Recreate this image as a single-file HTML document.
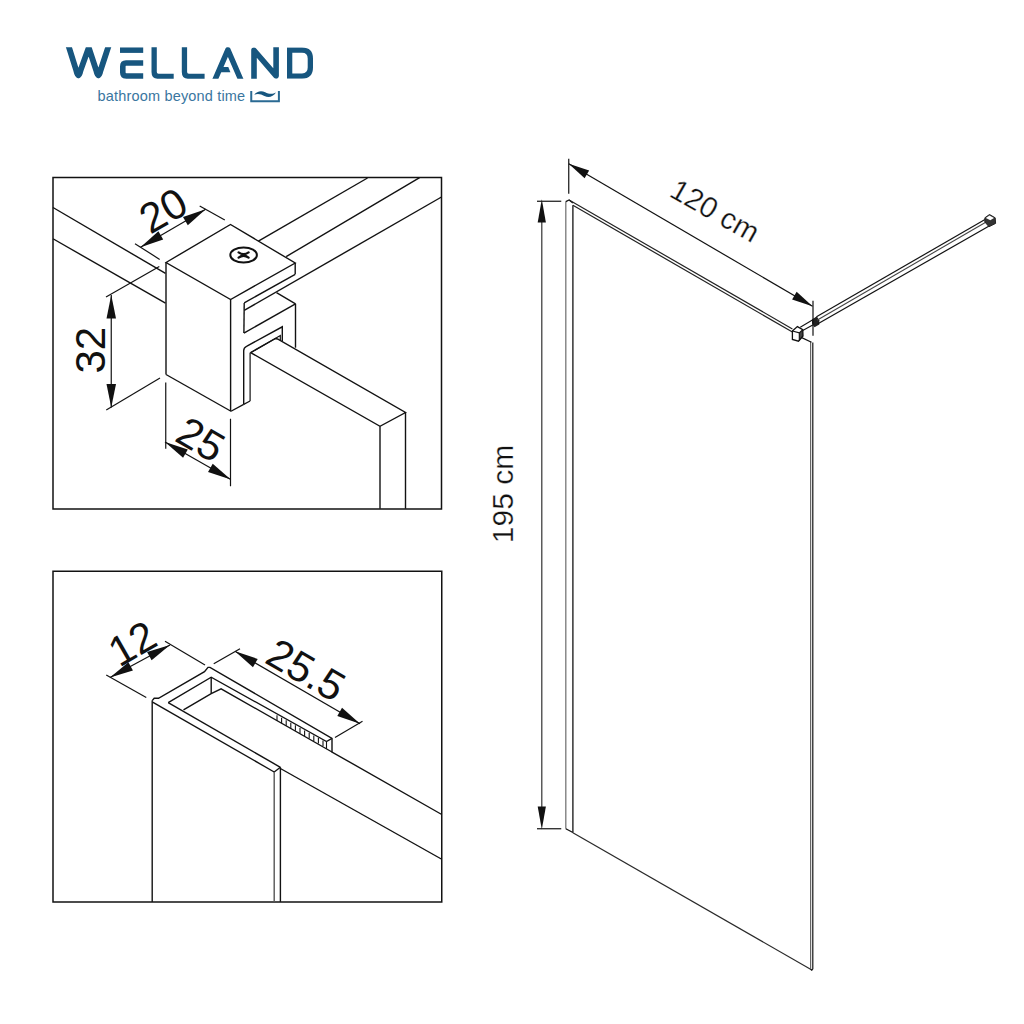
<!DOCTYPE html>
<html><head><meta charset="utf-8"><style>
html,body{margin:0;padding:0;background:#fff;width:1024px;height:1024px;overflow:hidden}
svg{position:absolute;left:0;top:0}
</style></head><body>
<svg width="1024" height="1024" viewBox="0 0 1024 1024">
<polygon points="53,177.5 441.5,177.5 441.5,509.1 53,509.1" fill="none" stroke="#121212" stroke-width="1.5" stroke-linejoin="miter"/>
<line x1="53" y1="207.5" x2="165.5" y2="273.4" stroke="#121212" stroke-width="1.4"/>
<line x1="53" y1="238.75" x2="165.5" y2="303.2" stroke="#121212" stroke-width="1.4"/>
<line x1="367.5" y1="178" x2="258.4" y2="241.2" stroke="#121212" stroke-width="1.4"/>
<line x1="419.6" y1="177.7" x2="286.2" y2="256.6" stroke="#121212" stroke-width="1.4"/>
<line x1="441.5" y1="197" x2="244.2" y2="310.4" stroke="#121212" stroke-width="1.4"/>
<polygon points="166,262.5 230.5,224.5 295.2,263 230.6,299.5" fill="none" stroke="#121212" stroke-width="1.4" stroke-linejoin="miter"/>
<line x1="166" y1="262.5" x2="166" y2="374.5" stroke="#121212" stroke-width="1.4"/>
<line x1="166" y1="374.5" x2="231" y2="411.25" stroke="#121212" stroke-width="1.4"/>
<line x1="230.6" y1="299.5" x2="230.6" y2="411.25" stroke="#121212" stroke-width="1.4"/>
<line x1="231" y1="411.25" x2="243.7" y2="404.4" stroke="#121212" stroke-width="1.4"/>
<line x1="243.7" y1="404.4" x2="250.1" y2="401" stroke="#121212" stroke-width="1.2"/>
<line x1="295.2" y1="263" x2="295.2" y2="274.3" stroke="#121212" stroke-width="1.4"/>
<line x1="295.2" y1="274.3" x2="244.2" y2="302.9" stroke="#121212" stroke-width="1.4"/>
<line x1="244.2" y1="302.9" x2="243.9" y2="333.1" stroke="#121212" stroke-width="1.4"/>
<line x1="243.9" y1="333.1" x2="295.5" y2="303.8" stroke="#121212" stroke-width="1.4"/>
<line x1="276.5" y1="292.6" x2="295.5" y2="303.8" stroke="#121212" stroke-width="1.4"/>
<line x1="295.5" y1="303.8" x2="295.5" y2="347.7" stroke="#121212" stroke-width="1.4"/>
<path d="M243.7,404.4 V350.8 Q243.7,347.6 246.5,346.3 L282.3,326.8 V341" fill="none" stroke="#121212" stroke-width="1.4"/>
<path d="M250.1,401 V353.1 L280.3,335.6 V340.4" fill="none" stroke="#121212" stroke-width="1.2"/>
<polyline points="250.6,352.6 275.5,338.5 277.5,339 405.5,412.5 380,426.25 250.6,352.6" fill="none" stroke="#121212" stroke-width="1.4" stroke-linejoin="miter"/>
<line x1="380" y1="426.25" x2="380" y2="508.75" stroke="#121212" stroke-width="1.4"/>
<line x1="405.5" y1="412.5" x2="405.5" y2="508.75" stroke="#121212" stroke-width="1.4"/>
<ellipse cx="243.6" cy="255" rx="13.3" ry="7.6" fill="none" stroke="#111" stroke-width="2"/>
<path d="M238.6,252.4 Q243.6,256 248.6,252.4 M238.6,257.6 Q243.6,254 248.6,257.6" fill="none" stroke="#111" stroke-width="2.3" stroke-linecap="round"/>
<line x1="111.25" y1="295" x2="111.25" y2="407.5" stroke="#121212" stroke-width="1.2"/>
<polygon points="111.25,295.00 106.50,318.50 116.00,318.50" fill="#111"/>
<polygon points="111.25,407.50 116.00,384.00 106.50,384.00" fill="#111"/>
<line x1="106" y1="297" x2="159.3" y2="266.4" stroke="#121212" stroke-width="1.2"/>
<line x1="106.25" y1="410" x2="160" y2="378" stroke="#121212" stroke-width="1.2"/>
<line x1="140.5" y1="247.25" x2="205.7" y2="209.2" stroke="#121212" stroke-width="1.2"/>
<polygon points="140.50,247.25 163.19,239.51 158.40,231.30" fill="#111"/>
<polygon points="205.70,209.20 183.01,216.94 187.80,225.15" fill="#111"/>
<line x1="135" y1="243.7" x2="159.7" y2="259.4" stroke="#121212" stroke-width="1.2"/>
<line x1="199.7" y1="205.9" x2="224.8" y2="220.1" stroke="#121212" stroke-width="1.2"/>
<line x1="165" y1="442" x2="230.8" y2="479.5" stroke="#121212" stroke-width="1.2"/>
<polygon points="165.00,442.00 183.07,457.76 187.77,449.51" fill="#111"/>
<polygon points="230.80,479.50 212.73,463.74 208.03,471.99" fill="#111"/>
<line x1="165.75" y1="382.5" x2="165.75" y2="448.75" stroke="#121212" stroke-width="1.2"/>
<line x1="230.5" y1="418.75" x2="230.5" y2="486.25" stroke="#121212" stroke-width="1.2"/>
<text transform="translate(105,350.2) rotate(-90)" text-anchor="middle" font-family="'Liberation Sans', sans-serif" font-size="42" fill="#111" >32</text>
<text transform="translate(170.5,223) rotate(-30)" text-anchor="middle" font-family="'Liberation Sans', sans-serif" font-size="42" fill="#111" >20</text>
<text transform="translate(193.5,452) rotate(30)" text-anchor="middle" font-family="'Liberation Sans', sans-serif" font-size="42" fill="#111" >25</text>
<polygon points="53,571.25 441.75,571.25 441.75,901.9 53,901.9" fill="none" stroke="#121212" stroke-width="1.5" stroke-linejoin="miter"/>
<line x1="152.2" y1="700.6" x2="152.2" y2="901.9" stroke="#121212" stroke-width="1.4"/>
<polyline points="152.2,700.6 154.2,698.3 158.5,698.3 204.5,671.7 208,667.4 210,667.4 332,738.4 332,752 441.75,814.5" fill="none" stroke="#121212" stroke-width="1.4" stroke-linejoin="miter"/>
<polyline points="168.2,702.6 211.2,677.2 326.5,741.5 332,738.4" fill="none" stroke="#121212" stroke-width="1.4" stroke-linejoin="miter"/>
<line x1="211.2" y1="677.2" x2="211.2" y2="693.6" stroke="#121212" stroke-width="1.4"/>
<polyline points="183.5,709.8 211.2,693.6 221.1,688.8 332,752" fill="none" stroke="#121212" stroke-width="1.4" stroke-linejoin="miter"/>
<line x1="152.6" y1="702.2" x2="274.2" y2="772" stroke="#121212" stroke-width="1.4"/>
<polyline points="168.2,702.6 280.4,767.3" fill="none" stroke="#121212" stroke-width="1.4" stroke-linejoin="miter"/>
<line x1="274.2" y1="772" x2="280.4" y2="767.3" stroke="#121212" stroke-width="1.4"/>
<line x1="274.2" y1="772" x2="274.2" y2="901.9" stroke="#555" stroke-width="1.4"/>
<line x1="280.4" y1="767.3" x2="280.4" y2="901.9" stroke="#121212" stroke-width="1.4"/>
<line x1="280.4" y1="768.5" x2="441.75" y2="859.25" stroke="#121212" stroke-width="1.4"/>
<line x1="277.0" y1="715.25" x2="277.0" y2="720.75" stroke="#121212" stroke-width="1.1"/>
<line x1="281.6" y1="717.7800000000001" x2="281.6" y2="723.2800000000001" stroke="#121212" stroke-width="1.1"/>
<line x1="286.2" y1="720.3100000000001" x2="286.2" y2="725.8100000000001" stroke="#121212" stroke-width="1.1"/>
<line x1="290.8" y1="722.84" x2="290.8" y2="728.34" stroke="#121212" stroke-width="1.1"/>
<line x1="295.4" y1="725.37" x2="295.4" y2="730.87" stroke="#121212" stroke-width="1.1"/>
<line x1="300.0" y1="727.9" x2="300.0" y2="733.4" stroke="#121212" stroke-width="1.1"/>
<line x1="304.6" y1="730.4300000000001" x2="304.6" y2="735.9300000000001" stroke="#121212" stroke-width="1.1"/>
<line x1="309.2" y1="732.96" x2="309.2" y2="738.46" stroke="#121212" stroke-width="1.1"/>
<line x1="313.8" y1="735.49" x2="313.8" y2="740.99" stroke="#121212" stroke-width="1.1"/>
<line x1="318.4" y1="738.02" x2="318.4" y2="743.52" stroke="#121212" stroke-width="1.1"/>
<line x1="323.0" y1="740.5500000000001" x2="323.0" y2="746.0500000000001" stroke="#121212" stroke-width="1.1"/>
<line x1="326.5" y1="741.5" x2="326.5" y2="748.8" stroke="#121212" stroke-width="1.1"/>
<line x1="110" y1="677.5" x2="170" y2="645" stroke="#121212" stroke-width="1.2"/>
<polygon points="110.00,677.50 132.93,670.48 128.40,662.13" fill="#111"/>
<polygon points="170.00,645.00 147.07,652.02 151.60,660.37" fill="#111"/>
<line x1="106.25" y1="675" x2="146.25" y2="697.5" stroke="#121212" stroke-width="1.2"/>
<line x1="165" y1="641.25" x2="205" y2="665" stroke="#121212" stroke-width="1.2"/>
<line x1="235" y1="651.25" x2="360" y2="723.75" stroke="#121212" stroke-width="1.2"/>
<polygon points="235.00,651.25 252.95,667.15 257.71,658.93" fill="#111"/>
<polygon points="360.00,723.75 342.05,707.85 337.29,716.07" fill="#111"/>
<line x1="213.75" y1="663.75" x2="240" y2="648.75" stroke="#121212" stroke-width="1.2"/>
<line x1="335" y1="737.5" x2="362.5" y2="721.25" stroke="#121212" stroke-width="1.2"/>
<text transform="translate(139.4,656) rotate(-30)" text-anchor="middle" font-family="'Liberation Sans', sans-serif" font-size="42" fill="#111" >12</text>
<text transform="translate(298.75,682.4) rotate(30)" text-anchor="middle" font-family="'Liberation Sans', sans-serif" font-size="42" fill="#111" >25.5</text>
<line x1="541.8" y1="210" x2="541.8" y2="820" stroke="#333" stroke-width="1.2"/>
<polygon points="541.80,199.30 537.70,222.50 545.90,222.50" fill="#111"/>
<polygon points="541.80,829.60 545.90,806.40 537.70,806.40" fill="#111"/>
<line x1="537" y1="201.25" x2="561.25" y2="201.25" stroke="#121212" stroke-width="1.2"/>
<line x1="537" y1="828.75" x2="561.25" y2="828.75" stroke="#121212" stroke-width="1.2"/>
<text transform="translate(512.5,494) rotate(-90)" text-anchor="middle" font-family="'Liberation Sans', sans-serif" font-size="30" fill="#111" stroke="#fff" stroke-width="0.3">195 cm</text>
<line x1="565.8" y1="201.6" x2="565.8" y2="828.75" stroke="#777" stroke-width="1.3"/>
<line x1="572.9" y1="205.3" x2="572.9" y2="832.5" stroke="#121212" stroke-width="1.3"/>
<polyline points="565.8,201.6 569.1,200 572.9,203" fill="none" stroke="#121212" stroke-width="1.3" stroke-linejoin="miter"/>
<line x1="565.8" y1="828.75" x2="572.9" y2="832.5" stroke="#121212" stroke-width="1.4"/>
<line x1="569.1" y1="200" x2="792.4" y2="328.9" stroke="#222" stroke-width="1.2"/>
<line x1="572.9" y1="205.3" x2="792.4" y2="332" stroke="#222" stroke-width="1.2"/>
<line x1="572.9" y1="832.8" x2="811" y2="969.5" stroke="#2a2a2a" stroke-width="1.25"/>
<line x1="810.6" y1="341.5" x2="810.6" y2="969.25" stroke="#666" stroke-width="1.2"/>
<line x1="812.8" y1="342.5" x2="812.8" y2="969.25" stroke="#121212" stroke-width="1.2"/>
<polyline points="810.6,969.25 811.7,970.2 812.8,969.25" fill="none" stroke="#121212" stroke-width="1.1" stroke-linejoin="miter"/>
<polyline points="799.6,336.6 811.5,342.25" fill="none" stroke="#121212" stroke-width="1.3" stroke-linejoin="miter"/>
<polygon points="799.3,332.9 802.75,329.75 803,336 799.3,341" fill="#444"/>
<polygon points="792.4,331 797.4,326.6 802.75,329.75 803,336 798.5,341.2 792.4,339.5" fill="none" stroke="#121212" stroke-width="1.3" stroke-linejoin="miter"/>
<polyline points="792.4,331 799.3,332.9 802.75,329.75" fill="none" stroke="#121212" stroke-width="1.1" stroke-linejoin="miter"/>
<line x1="799.3" y1="332.9" x2="799.3" y2="341" stroke="#121212" stroke-width="1.1"/>
<line x1="800.25" y1="327.25" x2="817" y2="317.25" stroke="#121212" stroke-width="1.1"/>
<line x1="802.75" y1="330.4" x2="817.75" y2="322.25" stroke="#121212" stroke-width="1.1"/>
<polygon points="812,319.5 816.8,316.4 819.3,320.2 819.3,324.5 814.5,327.2 812,323.5" fill="#222"/>
<line x1="816.5" y1="316.8" x2="985" y2="219.5" stroke="#121212" stroke-width="1.2"/>
<line x1="817" y1="320.3" x2="987" y2="221.5" stroke="#444" stroke-width="1.1"/>
<line x1="817.5" y1="324" x2="990" y2="225.5" stroke="#121212" stroke-width="1.2"/>
<polygon points="984.85,217.8 989.5,214.5 995.2,217.8 995.6,223.4 989,226.7 984.85,222" fill="#333" stroke="#222" stroke-width="1"/>
<polygon points="985.8,218 989.5,215.6 994,218 990.3,220.2" fill="#fff"/>
<line x1="568.75" y1="163.75" x2="812.5" y2="306.25" stroke="#121212" stroke-width="1.2"/>
<polygon points="568.75,163.75 584.61,178.23 589.15,170.46" fill="#111"/>
<polygon points="812.50,306.25 796.64,291.77 792.10,299.54" fill="#111"/>
<line x1="568.75" y1="158.75" x2="568.75" y2="193.75" stroke="#121212" stroke-width="1.2"/>
<line x1="813" y1="300.75" x2="813" y2="335.75" stroke="#121212" stroke-width="1.2"/>
<text transform="translate(710,219.6) rotate(29.5)" text-anchor="middle" font-family="'Liberation Sans', sans-serif" font-size="29.5" fill="#111" stroke="#fff" stroke-width="0.3">120 cm</text>
<defs><clipPath id="capclip"><rect x="0" y="47.2" width="400" height="31.6"/></clipPath></defs>
<g id="logo" fill="none" stroke="#17567f" stroke-width="5.5" clip-path="url(#capclip)">
<path d="M67.3,42 L76.1,70 Q78.4,81 80.7,70 L88.75,47.6 L96.1,70 Q98.4,81 100.7,70 L109.9,42" stroke-width="5.8" stroke-linejoin="round"/>
<rect x="120" y="47.3" width="23.2" height="5.6" fill="#17567f" stroke="none"/>
<path d="M143.2,63 H126 Q122.8,63 122.8,66.5 V72.6 Q122.8,76.1 126.5,76.1 H143.2" stroke-width="5.6"/>
<path d="M154.15,44 V72 Q154.15,76.4 158.5,76.4 H173.7" stroke-width="5.3"/>
<path d="M184.45,44 V72 Q184.45,76.4 188.8,76.4 H204.6" stroke-width="5.3"/>
<path d="M213.6,83 L227.9,49.8 L242.2,83" stroke-linejoin="round"/>
<polygon points="219.3,67 228.3,67 230.4,72.3 216.9,72.3" fill="#17567f" stroke="none"/>
<path d="M254,82 V50.3 L276.1,75.8 V44" stroke-width="5.6" stroke-linejoin="round"/>
<path d="M289.65,50.05 H302 Q310.35,50.05 310.35,58.5 V67.6 Q310.35,76.05 302,76.05 H289.65 Z" stroke-width="5.3"/>
</g>
<g fill="#17567f">
<text x="97.6" y="100.8" font-family="'Liberation Sans', sans-serif" font-size="14.5" textLength="147.5" lengthAdjust="spacing" fill="#3a76a0">bathroom beyond time</text>
<path d="M251.25,91 V101.25 H278.9 V91" fill="none" stroke="#2a6a93" stroke-width="2"/>
<path d="M254,94.9 C257,91.2 261,90.2 265.2,92.2 C268.5,93.8 272,94.8 276,92.6 C273,97 268.5,98.2 264.4,96 C261,94.2 257.8,93.2 254,94.9 Z" fill="#17567f"/>
</g>
</svg>
</body></html>
